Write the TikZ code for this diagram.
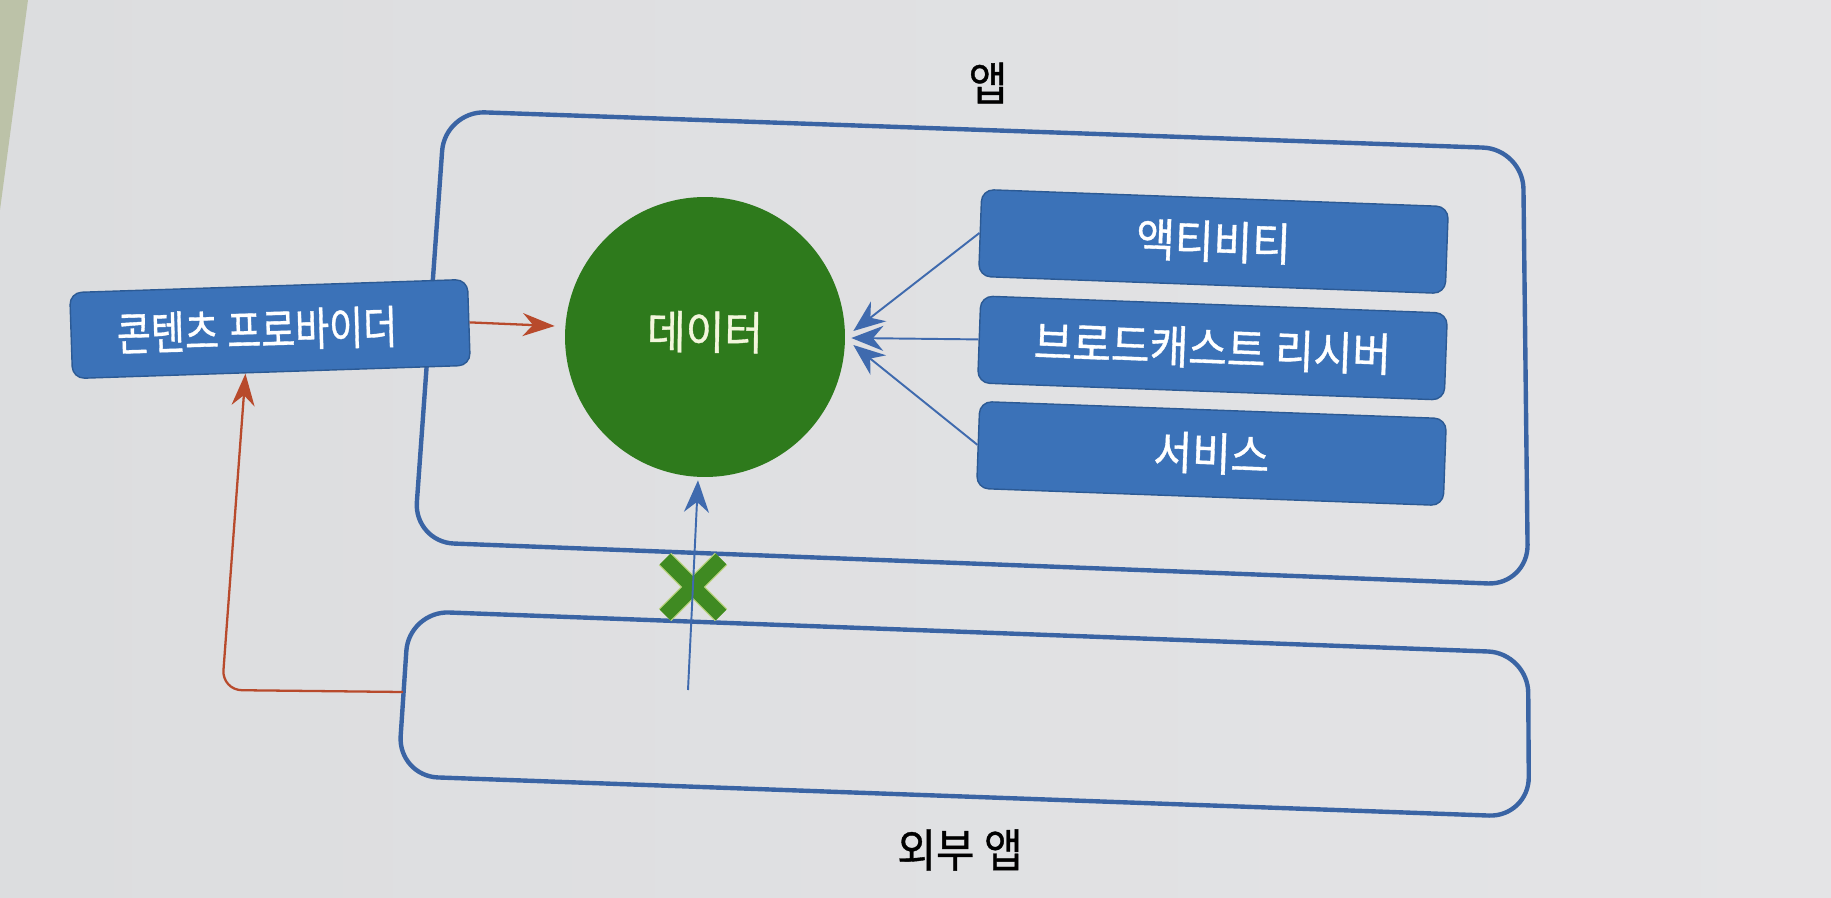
\documentclass[tikz,border=0pt]{standalone}
\usepackage{fontspec}
\newfontfamily\kr[FakeStretch=0.92,FakeBold=0.8]{Noto Sans CJK KR}
\usetikzlibrary{arrows.meta,calc}
\definecolor{pagebgL}{HTML}{DCDDDF}
\definecolor{pagebgR}{HTML}{E4E4E6}
\definecolor{stripgreen}{HTML}{BCC2A8}
\definecolor{boxblue}{HTML}{3B72B8}
\definecolor{boxedge}{HTML}{2C5A94}
\definecolor{frameblue}{HTML}{3A64A4}
\definecolor{datagreen}{HTML}{2E7A1C}
\definecolor{xgreen}{HTML}{3F8A22}
\definecolor{xedge}{HTML}{B9D27C}
\definecolor{arrorange}{HTML}{B84A2C}
\definecolor{arrblue}{HTML}{3F6AAE}
\definecolor{datatext}{HTML}{F3F6DC}
\begin{document}
\begin{tikzpicture}[x=0.02cm,y=-0.02cm,
  kfont/.style={font=\kr\fontsize{26}{31}\selectfont},
  bluebox/.style={draw=boxedge, line width=0.8pt, fill=boxblue, rounded corners=0.24cm,
    minimum width=9.34cm, minimum height=1.74cm, inner sep=0pt, rotate=-2.1,
    text=white, kfont},
  cpbox/.style={draw=boxedge, line width=0.8pt, fill=boxblue, rounded corners=0.24cm,
    minimum width=7.96cm, minimum height=1.72cm, inner sep=0pt, rotate=1.9},
  wtext/.style={text=white, kfont, inner sep=0pt},
  ktext/.style={text=black, kfont, inner sep=0pt},
  bigbox/.style={draw=frameblue, line width=2.5pt, rounded corners=0.8cm},
  barrow/.style={draw=arrblue, line width=1.1pt, -{Stealth[length=0.64cm, width=0.5cm]}},
  oarrow/.style={draw=arrorange, line width=1.3pt, -{Stealth[length=0.64cm, width=0.46cm]}},
  datanode/.style={circle, fill=datagreen, minimum size=5.6cm, inner sep=0pt,
    text=datatext, kfont}
]
% page
\useasboundingbox (0,0) rectangle (1831,898);
\shade[left color=pagebgL, right color=pagebgR] (0,0) rectangle (1831,898);
\fill[stripgreen] (0,0) -- (28,0) -- (0,210) -- cycle;

% labels
\node[ktext] (applabel) at (988,83) {앱};
\node[ktext] (extlabel) at (960,850) {외부 앱};

% app frame and external app frame
\draw[bigbox] (445,111) -- (1523,149) -- (1528,585) -- (414,542) -- cycle;
\draw[bigbox] (409,611) -- (1528,653) -- (1529,817) -- (398,776) -- cycle;
\coordinate (extL) at (403,692);
\coordinate (extsrc) at (688,690);
\coordinate (bend) at (222,690);

% data circle
\node[datanode] (data) at (705,337) {};
\node[text=datatext, kfont, inner sep=0pt, rotate=-0.8] (datatxt) at (705,332) {데이터};

% component boxes
\node[bluebox] (act) at (1213.5,241.5) {액티비티};
\node[bluebox] (brc) at (1212.5,348) {브로드캐스트 리시버};
\node[bluebox] (svc) at (1211.5,453.5) {서비스};

% content provider
\node[cpbox] (cp) at (270,329) {};
\node[wtext, rotate=1.5, xscale=0.88] (cptxt) at (257,330) {콘텐츠 프로바이더};

% blocked X
\draw[xedge, line width=10pt] (665,559) -- (721,615) (665,615) -- (721,559);
\draw[xgreen, line width=8.5pt] (665,559) -- (721,615) (665,615) -- (721,559);

% arrows
\draw[barrow] (act.west) -- ($(data.east)+(8,-6)$);
\draw[barrow] (brc.west) -- ($(data.east)+(6,1)$);
\draw[barrow] (svc.west) -- ($(data.east)+(8,8)$);
\draw[barrow] (extsrc) -- ($(data.south)+(-7,3)$);
\draw[oarrow] (cp.east) -- ($(data.west)+(-10,-11)$);
\draw[oarrow, rounded corners=0.4cm] (extL) -- (bend) -- ($(cp.south)+(-26,1)$);
\end{tikzpicture}
\end{document}
